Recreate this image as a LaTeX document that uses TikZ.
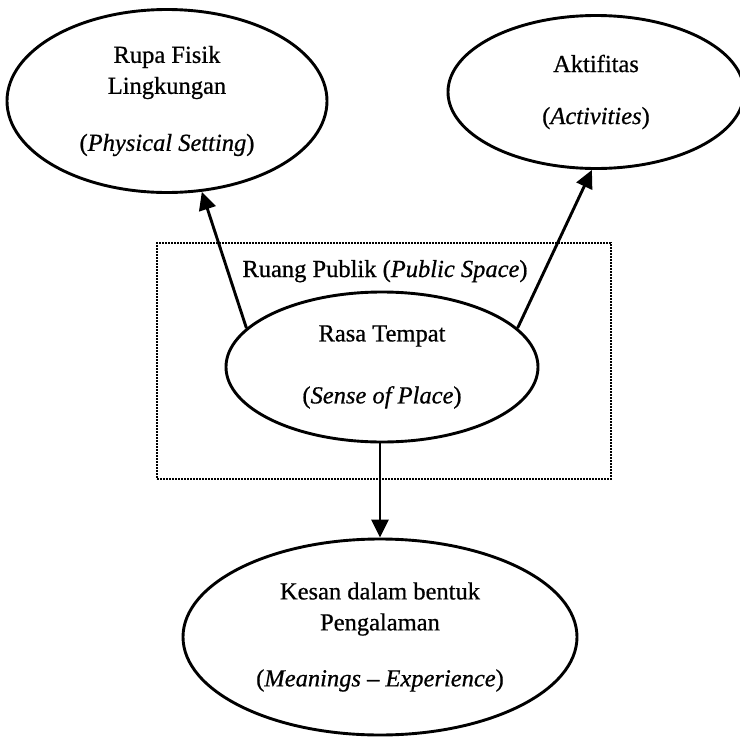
\documentclass[tikz,border=0pt]{standalone}
\usepackage{fontspec}
\setmainfont{Liberation Serif}[FakeBold=0.7]
\usetikzlibrary{shapes.geometric,arrows.meta}
\begin{document}
\begin{tikzpicture}[x=1pt,y=-1pt,
  bubble/.style={ellipse,draw,line width=2.9pt,inner sep=0pt,align=center,
    font=\fontsize{24.5}{31}\selectfont},
  link/.style={line width=2.9pt,-{Triangle[length=18pt,width=17pt]}},
  zone/.style={draw,dash pattern=on 1.6pt off 1.4pt,line width=1.7pt,
    minimum width=454pt,minimum height=236pt,inner sep=0pt}]
\useasboundingbox (0,0) rectangle (740,737);

% public space frame and its caption
\node[zone] (zone) at (384,361) {};
\node[anchor=base,font=\fontsize{24.5}{31}\selectfont] (zlabel) at (385,277)
  {Ruang Publik (\textit{Public Space})};

% the four components
\node[bubble,minimum width=320pt,minimum height=183pt] (a) at (167,101)
  {Rupa Fisik\\Lingkungan\\[26pt](\textit{Physical Setting})};
\node[bubble,minimum width=296pt,minimum height=153pt] (b) at (596,92)
  {Aktifitas\\[21pt](\textit{Activities})};
\node[bubble,minimum width=312pt,minimum height=150pt] (c) at (382,367)
  {Rasa Tempat\\[31pt](\textit{Sense of Place})};
\node[bubble,minimum width=394pt,minimum height=196pt] (d) at (380,637)
  {Kesan dalam bentuk\\Pengalaman\\[25pt](\textit{Meanings -- Experience})};

% relations
\draw[link] (c.164) -- (a.-69);
\draw[link] (c.16) -- (b.-93);
\draw[link] (c.south -| d.north) -- (d.north);
\end{tikzpicture}
\end{document}
